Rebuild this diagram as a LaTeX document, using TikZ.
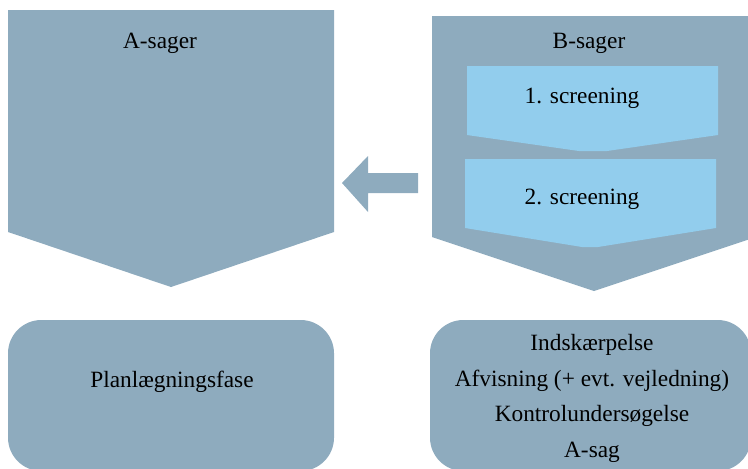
\documentclass[tikz,border=0pt]{standalone}
\usepackage{fontspec}
\setmainfont{Liberation Serif}
\usetikzlibrary{positioning}
\definecolor{sagblue}{HTML}{8EABBE}
\definecolor{screenblue}{HTML}{92CDED}
\tikzset{
  sagtext/.style={font=\fontsize{17.5}{26.8}\selectfont,text=black,align=center},
}

\begin{document}
\begin{tikzpicture}[x=0.75pt,y=-0.75pt]
\useasboundingbox (0,0) rectangle (748,468);
\clip (0,0) rectangle (748,468);
\draw[fill=sagblue,draw=none] (8,10) -- (334,10) -- (334,232) -- (171,287) -- (8,232) -- cycle;
\draw[fill=sagblue,draw=none] (432,16) -- (756,16) -- (756,237) -- (594,291) -- (432,237) -- cycle;
\draw[fill=screenblue,draw=none] (467,66) -- (718,66) -- (718,135) -- (607,151) -- (579,151) -- (467,135) -- cycle;
\draw[fill=screenblue,draw=none] (465,159) -- (716,159) -- (716,228) -- (598,247) -- (582,247) -- (465,228) -- cycle;
\draw[fill=sagblue,draw=none] (418,173) -- (368,173) -- (368,156) -- (342,183) -- (368,212) -- (368,193) -- (418,193) -- cycle;
\draw[fill=sagblue,draw=none,rounded corners=25] (8,320) rectangle (334,471);
\draw[fill=sagblue,draw=none,rounded corners=25] (430,320) rectangle (751,471);

\node[sagtext] (asager) at (160,43) {A-sager};
\node[sagtext] (bsager) at (589,43) {B-sager};
\node[sagtext] (screen1) at (582,98) {1. screening};
\node[sagtext] (screen2) at (582,199) {2. screening};
\node[sagtext] (plan) at (172,382) {Planlægningsfase};
\node[sagtext] (udfald) at (592,398.5) {Indskærpelse\\Afvisning (+ evt. vejledning)\\Kontrolundersøgelse\\A-sag};
\end{tikzpicture}
\end{document}
